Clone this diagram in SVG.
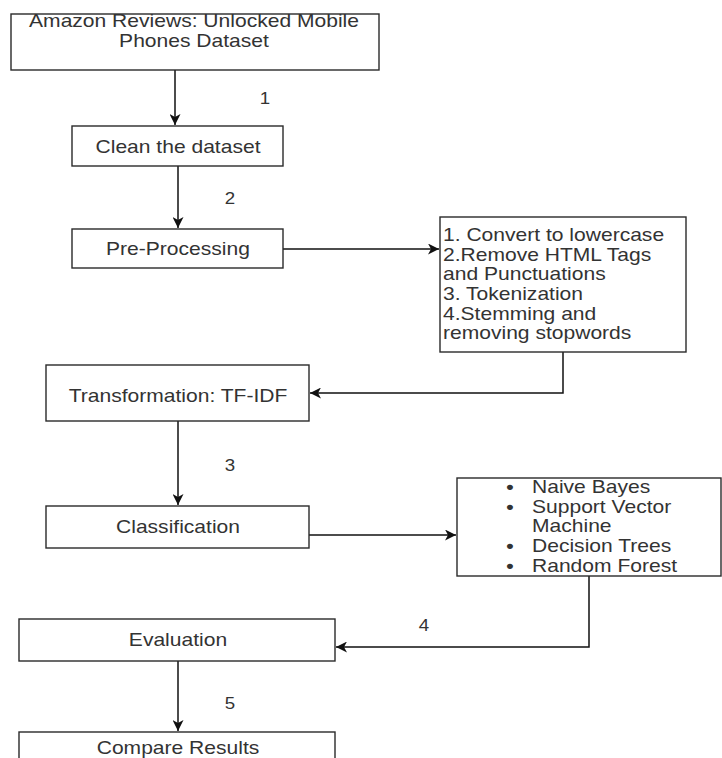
<svg xmlns="http://www.w3.org/2000/svg" width="722" height="758" viewBox="0 0 722 758">
<style>
.box{fill:#fff;stroke:#2a2a2a;stroke-width:1.4}
.t{font-family:"Liberation Sans",Arial,sans-serif;font-size:18px;fill:#333}
.c{text-anchor:middle}
.n{font-family:"Liberation Sans",Arial,sans-serif;font-size:16px;fill:#333;text-anchor:middle}
.e{fill:none;stroke:#111;stroke-width:1.5}
</style>
<defs>
<marker id="ah" markerWidth="12" markerHeight="11" refX="11" refY="5.5" orient="auto" markerUnits="userSpaceOnUse">
<path d="M0,0 L11,5.5 L0,11 L3,5.5 Z" fill="#111"/>
</marker>
</defs>
<rect width="722" height="758" fill="#fff"/>
<g id="connectors">
<path class="e" d="M175,70 V125" marker-end="url(#ah)"/>
<path class="e" d="M178,166 V228" marker-end="url(#ah)"/>
<path class="e" d="M283,249 H439" marker-end="url(#ah)"/>
<path class="e" d="M563,352 V393 H310" marker-end="url(#ah)"/>
<path class="e" d="M178,421 V505" marker-end="url(#ah)"/>
<path class="e" d="M309,535 H456" marker-end="url(#ah)"/>
<path class="e" d="M589,576 V647 H336" marker-end="url(#ah)"/>
<path class="e" d="M178,661 V731" marker-end="url(#ah)"/>
<text class="n" transform="translate(265,104) scale(1.17,1)">1</text>
<text class="n" transform="translate(230,204) scale(1.17,1)">2</text>
<text class="n" transform="translate(230,471) scale(1.17,1)">3</text>
<text class="n" transform="translate(424,631) scale(1.17,1)">4</text>
<text class="n" transform="translate(230,709) scale(1.17,1)">5</text>
</g>
<g id="dataset">
<rect class="box" x="11" y="14" width="368" height="56"/>
<text class="t c" transform="translate(194,27) scale(1.17,1)"><tspan x="0" y="0">Amazon Reviews: Unlocked Mobile</tspan><tspan x="0" y="20">Phones Dataset</tspan></text>
</g>
<g id="clean">
<rect class="box" x="72" y="126" width="211" height="40"/>
<text class="t c" transform="translate(178,153) scale(1.17,1)">Clean the dataset</text>
</g>
<g id="preprocessing">
<rect class="box" x="72" y="229" width="211" height="39"/>
<text class="t c" transform="translate(178,255) scale(1.17,1)">Pre-Processing</text>
</g>
<g id="steps">
<rect class="box" x="440" y="217" width="246" height="135"/>
<text class="t" transform="translate(443,241) scale(1.17,1)"><tspan x="0" y="0">1. Convert to lowercase</tspan><tspan x="0" y="19.7">2.Remove HTML Tags</tspan><tspan x="0" y="39.4">and Punctuations</tspan><tspan x="0" y="59.1">3. Tokenization</tspan><tspan x="0" y="78.8">4.Stemming and</tspan><tspan x="0" y="98.5">removing stopwords</tspan></text>
</g>
<g id="transformation">
<rect class="box" x="46" y="365" width="263" height="56"/>
<text class="t c" transform="translate(178,402) scale(1.17,1)">Transformation: TF-IDF</text>
</g>
<g id="classification">
<rect class="box" x="46" y="506" width="263" height="42"/>
<text class="t c" transform="translate(178,533) scale(1.17,1)">Classification</text>
</g>
<g id="classifiers">
<rect class="box" x="457" y="478" width="264" height="98"/>
<text class="t c" transform="translate(510,493) scale(1.17,1)" style="font-weight:bold"><tspan x="0" y="0">•</tspan><tspan x="0" y="19.7">•</tspan><tspan x="0" y="59">•</tspan><tspan x="0" y="78.7">•</tspan></text>
<text class="t" transform="translate(532,493) scale(1.17,1)"><tspan x="0" y="0">Naive Bayes</tspan><tspan x="0" y="19.7">Support Vector</tspan><tspan x="0" y="39.4">Machine</tspan><tspan x="0" y="59">Decision Trees</tspan><tspan x="0" y="78.7">Random Forest</tspan></text>
</g>
<g id="evaluation">
<rect class="box" x="19" y="619" width="316" height="42"/>
<text class="t c" transform="translate(178,646) scale(1.17,1)">Evaluation</text>
</g>
<g id="compare">
<rect class="box" x="19" y="732" width="316" height="40"/>
<text class="t c" transform="translate(178,754) scale(1.17,1)">Compare Results</text>
</g>
</svg>
